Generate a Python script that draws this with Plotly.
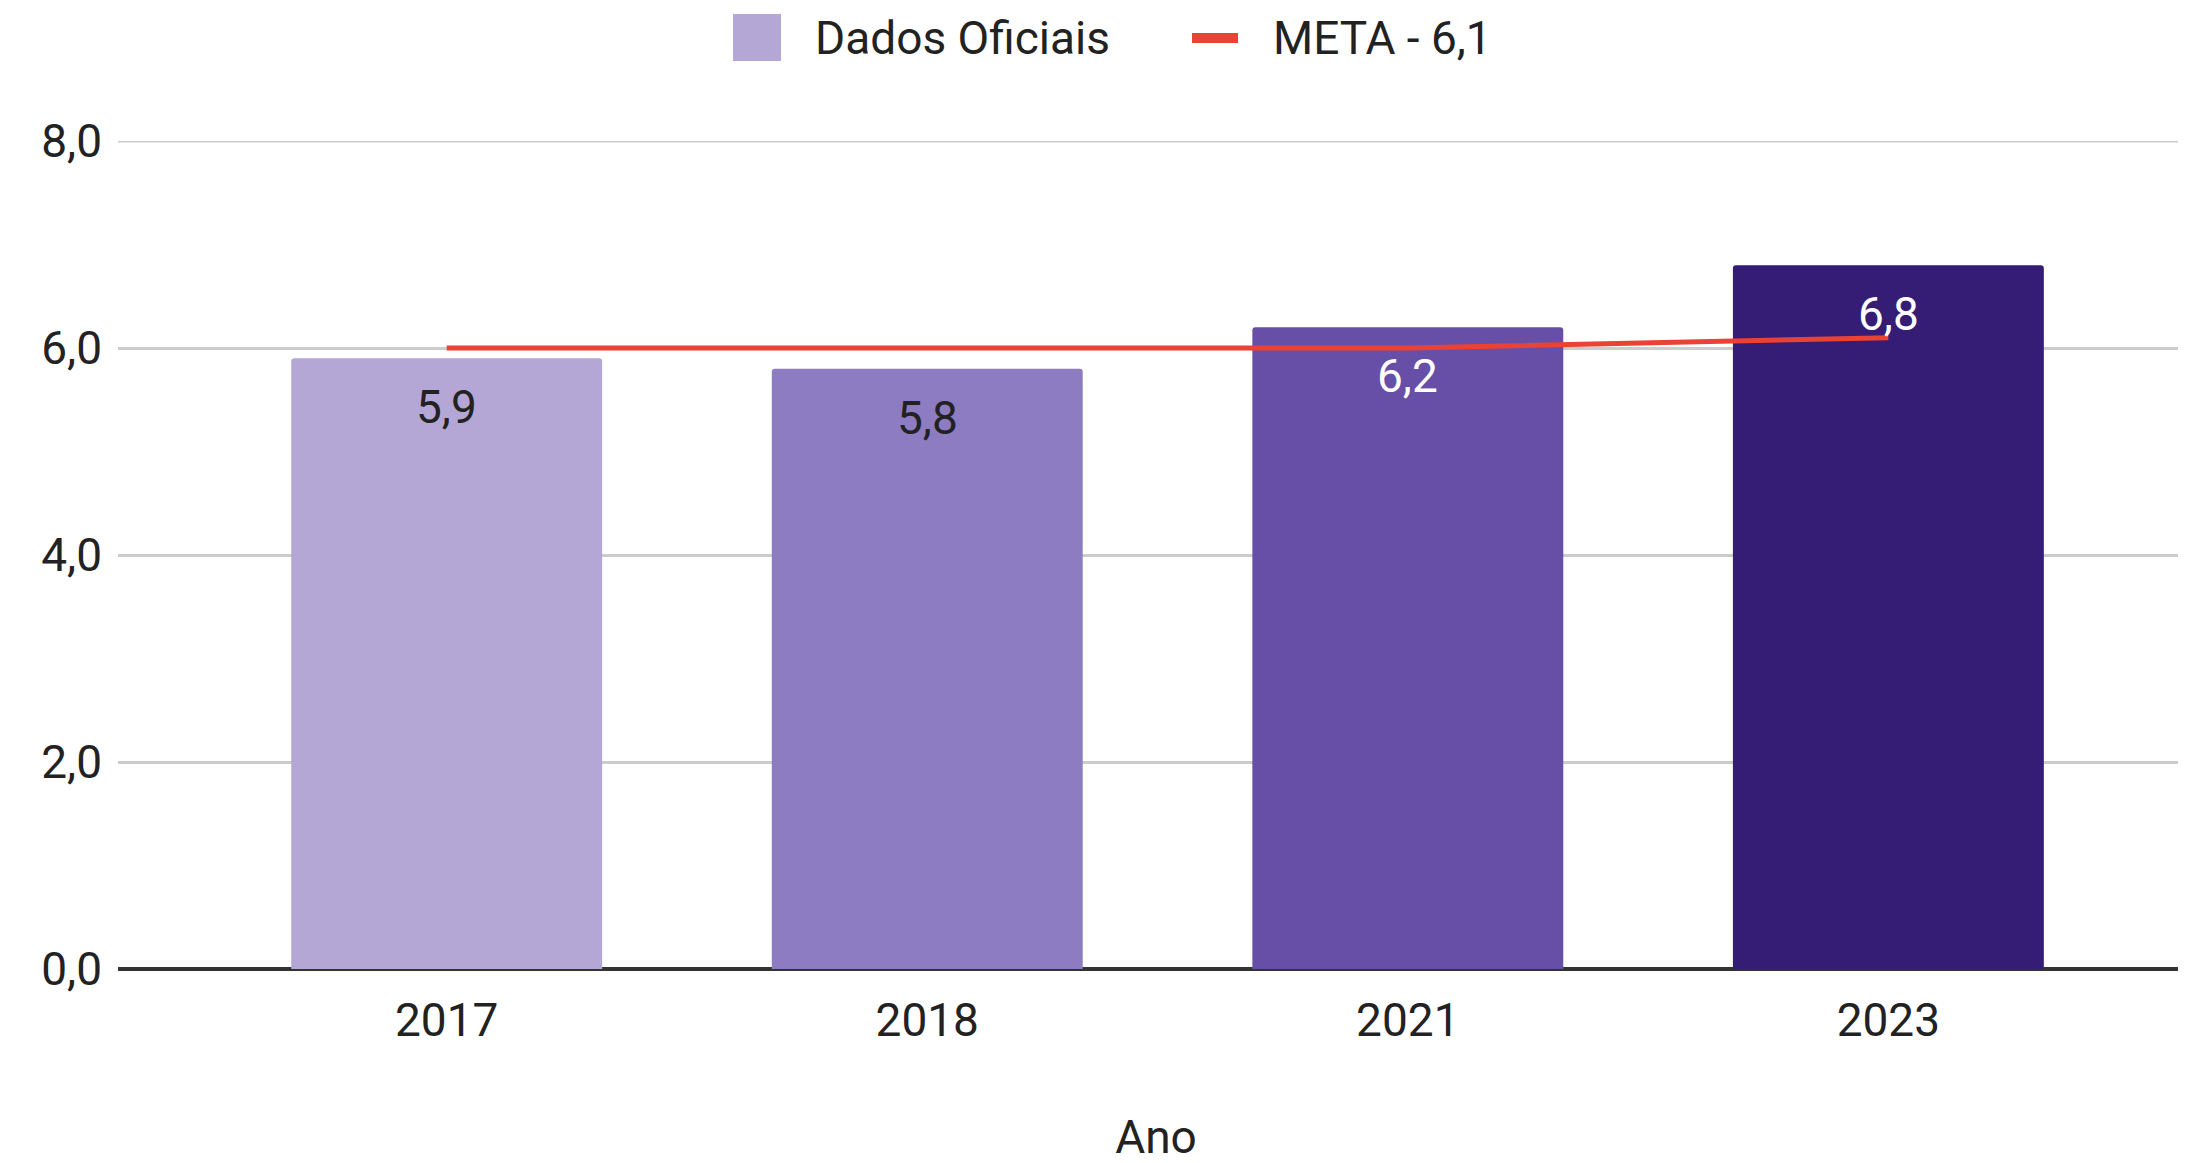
import plotly.graph_objects as go

anos = ["2017", "2018", "2021", "2023"]
dados_oficiais = [5.9, 5.8, 6.2, 6.8]
meta = [6.0, 6.0, 6.0, 6.1]
rotulos = ["5,9", "5,8", "6,2", "6,8"]
cores_barras = ["#b4a7d6", "#8e7cc3", "#674ea7", "#351c75"]
cores_rotulos = ["#222222", "#222222", "#ffffff", "#ffffff"]
y_ticks = [0, 2, 4, 6, 8]
y_tick_labels = ["0,0", "2,0", "4,0", "6,0", "8,0"]

FONT = "Roboto"
fs = 46

W, H = 2186, 1163
ML, MT, MB = 110, 133, 202
PW = W - ML
PH = H - MT - MB
OFF = 8  # page body margin


def px_x(p):
    return (p - OFF - ML) / PW


def px_y(p):
    return (H - MB - (p - OFF)) / PH


fig = go.Figure()
fig.add_trace(go.Bar(
    x=anos, y=dados_oficiais, marker=dict(color=cores_barras, line=dict(width=0), cornerradius=3),
    width=0.647, name="Dados Oficiais", showlegend=False, hoverinfo="skip",
))
fig.add_trace(go.Scatter(
    x=anos, y=meta, mode="lines", line=dict(color="#ea4335", width=5),
    name="META - 6,1", showlegend=False,
))

for i, (v, t, c) in enumerate(zip(dados_oficiais, rotulos, cores_rotulos)):
    fig.add_annotation(x=i, y=v, text=t, showarrow=False, yshift=-49,
                       font=dict(family=FONT, size=fs, color=c), xref="x", yref="y")

# top gridline (8,0)
fig.add_shape(type="line", xref="paper", yref="y", x0=0, x1=1, y0=8, y1=8,
              line=dict(color="#cccccc", width=3), layer="below")

# manual legend
fig.add_shape(type="rect", xref="paper", yref="paper",
              x0=px_x(733), x1=px_x(781), y0=px_y(61), y1=px_y(14),
              fillcolor="#b4a7d6", line=dict(width=0))
fig.add_annotation(xref="paper", yref="paper", x=px_x(813), y=px_y(38),
                   text="Dados Oficiais", showarrow=False, xanchor="left", yanchor="middle",
                   font=dict(family=FONT, size=fs, color="#222222"))
fig.add_shape(type="line", xref="paper", yref="paper",
              x0=px_x(1192), x1=px_x(1238), y0=px_y(38), y1=px_y(38),
              line=dict(color="#ea4335", width=10))
fig.add_annotation(xref="paper", yref="paper", x=px_x(1271), y=px_y(38),
                   text="META - 6,1", showarrow=False, xanchor="left", yanchor="middle",
                   font=dict(family=FONT, size=fs, color="#222222"))

fig.update_layout(
    width=W, height=H,
    margin=dict(l=ML, r=0, t=MT, b=MB, pad=0),
    plot_bgcolor="white", paper_bgcolor="white",
    font=dict(family=FONT, size=fs, color="#222222"),
    showlegend=False,
    xaxis=dict(type="category", range=[-0.684, 3.636], showgrid=False,
               showline=False, ticks="", ticklabelstandoff=20,
               title=dict(text="Ano", font=dict(family=FONT, size=fs), standoff=74)),
    yaxis=dict(range=[0, 8], tickvals=y_ticks, ticktext=y_tick_labels,
               showgrid=True, gridcolor="#cccccc", gridwidth=3,
               zeroline=True, zerolinecolor="#333333", zerolinewidth=4,
               showline=False, ticks="", ticklabelstandoff=15),
)

fig.write_html("out.html")
